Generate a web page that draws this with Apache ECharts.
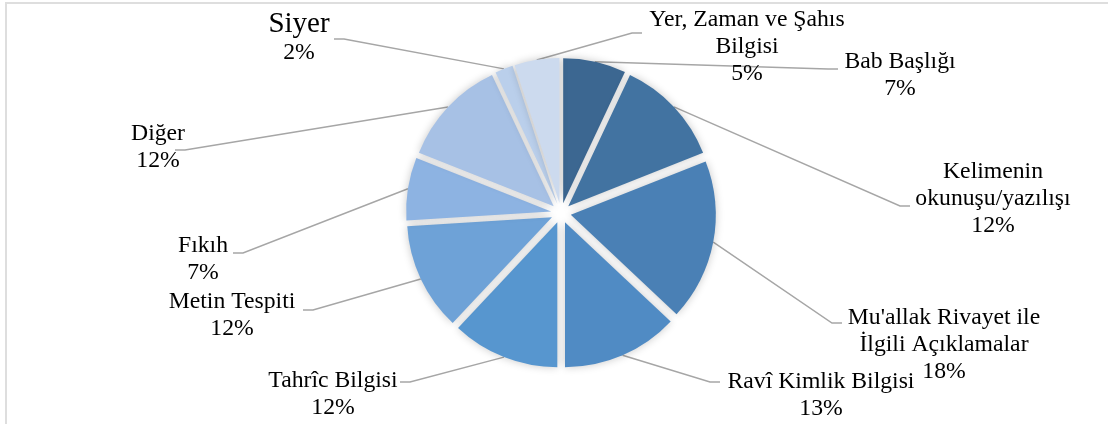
<!DOCTYPE html>
<html>
<head>
<meta charset="utf-8">
<script src="https://cdn.jsdelivr.net/npm/echarts@6/dist/echarts.min.js"></script>
<style>
  html, body { margin: 0; padding: 0; background: #fff; }
  #frame { position: absolute; left: 5px; top: 2px; width: 1200px; height: 600px; border: 2px solid #dedede; }
  #chart { position: absolute; left: 0; top: 0; width: 1108px; height: 424px; }
</style>
</head>
<body>
<div id="frame"></div>
<div id="chart"></div>
<script>
const categories = [
    'Bab Başlığı',
    'Kelimenin\nokunuşu/yazılışı',
    "Mu'allak Rivayet ile\nİlgili Açıklamalar",
    'Ravî Kimlik Bilgisi',
    'Tahrîc Bilgisi',
    'Metin Tespiti',
    'Fıkıh',
    'Diğer',
    'Siyer',
    'Yer, Zaman ve Şahıs\nBilgisi'
];
const values = [7, 12, 18, 13, 12, 12, 7, 12, 2, 5];
const colors = ['#3c6791', '#4273a1', '#4a80b5', '#508bc4', '#5796cf',
    '#6ea2d7', '#8db3e2', '#a7c1e5', '#bacfeb', '#ccdaee'];

// where each label sits (text centre) and where its leader line ends
const labelCenter = [[900, 75], [993, 199], [944, 345], [821, 395], [333, 394],
    [232, 315], [203, 259], [158, 147], [299, 38], [747, 47]];
const lineEnd = [[838, 69], [910, 206], [842, 323], [720, 382], [400, 382],
    [303, 310], [233, 253], [175, 150], [334, 39], [642, 33]];

const pieCenter = [561, 213];
const pieRadius = 145;
const explode = 10;

const chart = echarts.init(document.getElementById('chart'));
chart.setOption({
    animation: false,
    series: [
        {
            // exploded slices
            type: 'pie',
            center: pieCenter,
            radius: pieRadius,
            startAngle: 90,
            selectedMode: 'multiple',
            selectedOffset: explode,
            silent: true,
            itemStyle: {
                shadowBlur: 8,
                shadowColor: 'rgba(0,0,0,0.22)'
            },
            label: { show: false },
            labelLine: { show: false },
            data: categories.map((name, i) => ({
                name: name,
                value: values[i],
                selected: true,
                itemStyle: { color: colors[i] }
            }))
        },
        {
            // invisible copy only for labels + leader lines
            type: 'pie',
            center: pieCenter,
            radius: pieRadius + explode,
            startAngle: 90,
            silent: true,
            itemStyle: { color: 'rgba(0,0,0,0)' },
            label: {
                show: true,
                position: 'outside',
                color: '#000',
                fontFamily: "'Liberation Serif', serif",
                fontSize: 23.7,
                lineHeight: 27,
                formatter: function (p) {
                    if (p.dataIndex === 8) {
                        return '{big|' + p.name + '}\n' + p.percent + '%';
                    }
                    return p.name + '\n' + p.percent + '%';
                },
                rich: {
                    big: { fontFamily: "'Liberation Serif', serif", fontSize: 29, lineHeight: 29, color: '#000' }
                }
            },
            labelLine: {
                show: true,
                length: 10,
                length2: 10,
                lineStyle: { color: '#a6a6a6', width: 1.5 }
            },
            labelLayout: function (params) {
                const i = params.dataIndex;
                const c = labelCenter[i];
                const e = lineEnd[i];
                const p0 = params.labelLinePoints ? params.labelLinePoints[0] : e;
                const dir = e[0] < c[0] ? 1 : -1;
                return {
                    x: c[0],
                    y: c[1],
                    align: 'center',
                    verticalAlign: 'middle',
                    labelLinePoints: [p0, [e[0] - dir * 10, e[1]], e]
                };
            },
            data: categories.map((name, i) => ({ name: name, value: values[i] }))
        }
    ]
});
</script>
</body>
</html>
